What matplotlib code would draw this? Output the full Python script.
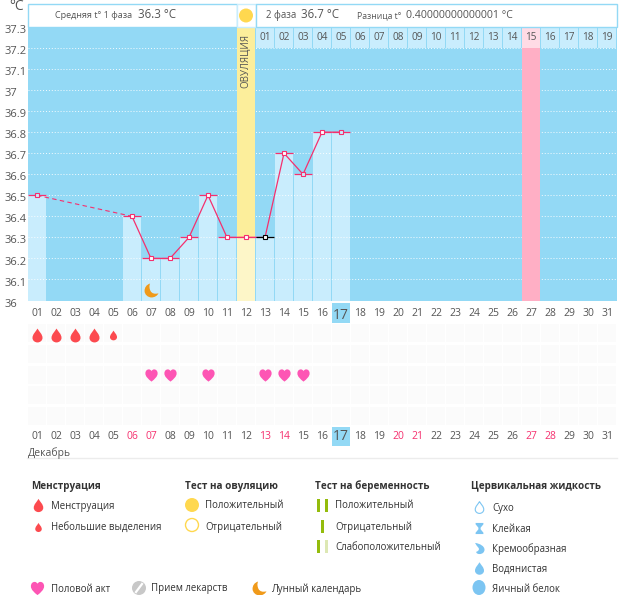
import matplotlib
matplotlib.use('Agg')
import matplotlib.pyplot as plt
from matplotlib.path import Path
from matplotlib.patches import Rectangle, Circle, Ellipse
from matplotlib.transforms import ScaledTranslation

plt.rcParams['font.family'] = ['Open Sans', 'DejaVu Sans']

# Chart data
days = list(range(1, 32))
temp_days = [1, 6, 7, 8, 9, 10, 11, 12, 13, 14, 15, 16, 17]
temps = [36.5, 36.4, 36.2, 36.2, 36.3, 36.5, 36.3, 36.3, 36.3, 36.7, 36.6, 36.8, 36.8]
y_ticks = [36, 36.1, 36.2, 36.3, 36.4, 36.5, 36.6, 36.7, 36.8, 36.9, 37, 37.1, 37.2, 37.3]
y_labels = ['36', '36.1', '36.2', '36.3', '36.4', '36.5', '36.6', '36.7', '36.8', '36.9',
            '37', '37.1', '37.2', '37.3']
cycle_days = list(range(13, 32))
cycle_labels = ['%02d' % i for i in range(1, 20)]
ovulation_day = 12
expected_day = 27
today = 17
moon_days = [7]
red_days = [6, 7, 13, 14, 20, 21, 27, 28]
heavy_days = [1, 2, 3, 4]
light_days = [5]
heart_days = [7, 8, 10, 13, 14, 15]

BG = '#93d9f5'
BAR = '#c9edfd'
RED = '#f5306e'
GREY = '#555555'
W, H = 626, 595
COL = 18 / 19


def drop_path():
    return Path([(0, 1), (0.25, 0.55), (0.72, 0.2), (0.72, -0.35), (0.72, -0.75), (0.35, -1), (0, -1),
                 (-0.35, -1), (-0.72, -0.75), (-0.72, -0.35), (-0.72, 0.2), (-0.25, 0.55), (0, 1)],
                [Path.MOVETO] + [Path.CURVE4] * 12)


def heart_path():
    return Path([(0, -1), (-0.5, -0.6), (-1, -0.2), (-1, 0.35), (-1, 0.8), (-0.7, 1), (-0.45, 1),
                 (-0.2, 1), (-0.05, 0.85), (0, 0.7), (0.05, 0.85), (0.2, 1), (0.45, 1),
                 (0.7, 1), (1, 0.8), (1, 0.35), (1, -0.2), (0.5, -0.6), (0, -1)],
                [Path.MOVETO] + [Path.CURVE4] * 18)


def moon_path():
    return Path([(-0.2, 1), (-0.75, 0.85), (-1, 0.4), (-1, -0.05), (-1, -0.6), (-0.5, -1), (0, -1),
                 (0.45, -1), (0.85, -0.75), (1, -0.4), (0.5, -0.55), (0.05, -0.45), (-0.15, -0.05),
                 (-0.32, 0.3), (-0.35, 0.7), (-0.2, 1)],
                [Path.MOVETO] + [Path.CURVE4] * 15)


def hourglass_path():
    return Path([(-0.7, 1), (0.7, 1), (0.7, 0.75), (0.2, 0.15), (0.2, -0.15), (0.7, -0.75), (0.7, -1),
                 (-0.7, -1), (-0.7, -0.75), (-0.2, -0.15), (-0.2, 0.15), (-0.7, 0.75), (-0.7, 1)])


def cream_path():
    return Path([(-0.8, 1), (0.1, 0.9), (0.9, 0.4), (0.9, -0.2), (0.9, -0.7), (0.5, -1), (0, -1),
                 (-0.4, -1), (-0.6, -0.8), (-0.6, -0.6), (-0.1, -0.45), (0.05, -0.05), (-0.25, 0.2),
                 (-0.45, 0.4), (-0.65, 0.75), (-0.8, 1)],
                [Path.MOVETO] + [Path.CURVE4] * 15)


fig = plt.figure(figsize=(W / 100, H / 100), dpi=100, facecolor='white')

# Temperature panel
ax = fig.add_axes([27.5 / W, 1 - 300.5 / H, 589 / W, 273.5 / H], zorder=2)
ax.set_facecolor(BG)
ax.set_xlim(0.5, 31.5)
ax.set_ylim(36, 37.3)
for s in ax.spines.values():
    s.set_visible(False)

ax.bar(ovulation_day, 37.3 - 36, bottom=36, width=COL, color='#fcee9b', zorder=3.5)
ax.bar(ovulation_day, 36.3 - 36, bottom=36, width=COL, color='#fdf6c8', zorder=3.6)
ax.bar(expected_day, 37.2 - 36, bottom=36, width=COL, color='#ffafc5', zorder=3.5)
ax.bar([d for d in temp_days if d != ovulation_day],
       [t - 36 for d, t in zip(temp_days, temps) if d != ovulation_day],
       bottom=36, width=COL, color=BAR, zorder=2)

# Cycle day cells
ax.bar(cycle_days, [0.1] * len(cycle_days), bottom=37.2, width=COL,
       color=['#ffdbe5' if d == expected_day else BAR for d in cycle_days], zorder=2)
for d, lab in zip(cycle_days, cycle_labels):
    ax.text(d, 37.25, lab, ha='center', va='center', fontsize=7.2, color=GREY, zorder=6)

ax.hlines(y_ticks[1:-1], 0.5, 31.5, color='white', lw=0.7, linestyles=(0, (1, 2)), alpha=0.9, zorder=3)

# Temperature line
ax.plot(temp_days[:2], temps[:2], color=RED, lw=0.8, ls=(0, (4, 3)), zorder=4)
ax.plot(temp_days[1:], temps[1:], color=RED, lw=0.9, zorder=4)
for d, t in zip(temp_days, temps):
    c = 'black' if d == 13 else RED
    ax.hlines(t, d - COL / 2, d + COL / 2, color=c, lw=0.9, zorder=4)
    small = d in (1, 15, 17)
    ax.plot(d, t, 's', ms=2.8 if small else 3.2, mfc=BAR if small else 'white', mec=c, mew=0.8, zorder=5)

ax.plot(moon_days, [36.05] * len(moon_days), marker=moon_path(), ls='none', ms=10, color='#f09a1a', mew=0, zorder=5)

ax.set_yticks(y_ticks)
ax.set_yticklabels(y_labels, fontsize=8, color=GREY, ha='left')
ax.tick_params(axis='y', length=0, pad=16.5)
for lab in ax.get_yticklabels():
    lab.set_transform(lab.get_transform() + ScaledTranslation(0, -1.5 / 72, fig.dpi_scale_trans))
ax.set_xticks(days)
ax.set_xticklabels(['%02d' % d for d in days], fontsize=7.5, color=GREY)
ax.tick_params(axis='x', length=0, pad=5.5)
ax.get_xticklabels()[today - 1].set_fontsize(10)

# Symptom rows
ax2 = fig.add_axes([27.5 / W, 1 - 446.5 / H, 589 / W, 143.5 / H], zorder=1)
ax2.set_xlim(0.5, 31.5)
ax2.set_ylim(446.5, 303)
ax2.axis('off')
rows = [333, 354, 375, 395, 416]
for r in rows:
    ax2.bar(days, [18] * len(days), bottom=r - 9, width=COL, color='#fbfbfb', zorder=1)
ax2.bar(today, 20, bottom=303, width=COL, color=BG, zorder=2)
ax2.bar(today, 19, bottom=427, width=COL, color=BG, zorder=2)
ax2.plot(heavy_days, [335] * len(heavy_days), marker=drop_path(), ls='none', ms=10, color='#fc4a4f', mew=0, zorder=3)
ax2.plot(light_days, [335] * len(light_days), marker=drop_path(), ls='none', ms=7, color='#fc4a4f', mew=0, zorder=3)
ax2.plot(heart_days, [375] * len(heart_days), marker=heart_path(), ls='none', ms=8.8, color='#fd55b4', mew=0, zorder=3)
for d in days:
    big = d == today
    ax2.text(d, 436.5, '%02d' % d, ha='center', va='center', zorder=4,
             fontsize=10 if big else 7.5, color=RED if d in red_days else GREY)

# Everything else sits in pixel coordinates
ov = fig.add_axes([0, 0, 1, 1], zorder=5)
ov.set_xlim(0, W)
ov.set_ylim(H, 0)
ov.axis('off')
ov.patch.set_alpha(0)

ov.add_patch(Rectangle((27.5, 3.5), 209, 23.5, fc='white', ec=BG, lw=1))
ov.add_patch(Rectangle((236.5, 3.5), 19, 23.5, fc='white', ec='#c9edfd', lw=1))
ov.add_patch(Rectangle((255.5, 3.5), 361, 23.5, fc='white', ec=BG, lw=1))
ov.add_patch(Circle((246, 15.5), 7, fc='#ffd84f', ec='none'))


def txt(x, y, s, size=7.5, color=GREY, **kw):
    ov.text(x, y, s, fontsize=size, color=color, va='center', ha=kw.pop('ha', 'left'), **kw)


txt(9, 7, '°C', 10)
txt(55, 15.5, 'Средняя t° 1 фаза', 6.5)
txt(138, 15, '36.3 °C', 8.3)
txt(266, 15.5, '2 фаза', 6.9)
txt(301, 15, '36.7 °C', 8.3)
txt(357, 15.5, 'Разница t°', 6.2)
txt(406, 15, '0.40000000000001 °C', 7.6)
ov.text(245.5, 61, 'ОВУЛЯЦИЯ', rotation=90, fontsize=7, color=GREY, ha='center', va='center')
txt(28, 453, 'Декабрь', 7.5)
ov.plot([27, 617], [458, 458], color='#ececec', lw=1)

# Legend
DARK = '#333333'
for x, s in [(31, 'Менструация'), (185, 'Тест на овуляцию'), (315, 'Тест на беременность'),
             (471, 'Цервикальная жидкость')]:
    txt(x, 486, s, 7.1, DARK, fontweight='bold')
for x, y, s in [(51, 506, 'Менструация'), (51, 527, 'Небольшие выделения'),
                (205, 506, 'Положительный'), (205, 527, 'Отрицательный'),
                (335, 506, 'Положительный'), (335, 527, 'Отрицательный'), (335, 547, 'Слабоположительный'),
                (492, 508, 'Сухо'), (492, 529, 'Клейкая'), (492, 549, 'Кремообразная'),
                (492, 569, 'Водянистая'), (492, 589, 'Яичный белок'),
                (51, 589, 'Половой акт'), (151, 589, 'Прием лекарств'), (271, 589, 'Лунный календарь')]:
    txt(x, y, s, 6.95, DARK)

ov.plot(38, 505, marker=drop_path(), ms=9.5, color='#fc4a4f', mew=0)
ov.plot(38, 527, marker=drop_path(), ms=6.5, color='#fc4a4f', mew=0)
ov.add_patch(Circle((192, 505), 7, fc='#ffd84f', ec='none'))
ov.add_patch(Circle((192, 525), 6.5, fc='white', ec='#ffd84f', lw=1))
for x, y, c in [(318, 505, '#94bc0c'), (326, 505, '#94bc0c'), (322, 526, '#94bc0c'),
                (318, 546, '#94bc0c'), (326, 546, '#dde8b4')]:
    ov.add_patch(Rectangle((x - 1.5, y - 6.5), 3, 13, fc=c, ec='none'))

BLUE = '#7cc5f2'
ov.plot(479, 507, marker=drop_path(), ms=8.5, mfc='white', mec=BLUE, mew=0.8)
ov.plot(479, 528, marker=hourglass_path(), ms=8, color=BLUE, mew=0)
ov.plot(479, 548, marker=cream_path(), ms=8, color=BLUE, mew=0)
ov.plot(479, 568, marker=drop_path(), ms=9, color=BLUE, mew=0)
ov.add_patch(Ellipse((479, 587.5), 13, 15, fc=BLUE, ec='none'))

ov.plot(37, 588, marker=heart_path(), ms=9.5, color='#fd55b4', mew=0)
ov.add_patch(Circle((139, 588), 7, fc='#c8c8c8', ec='none'))
ov.plot([136, 142], [592, 584], color='white', lw=1.6)
ov.plot(259, 588, marker=moon_path(), ms=10, color='#f09a1a', mew=0)

fig.savefig('out.png', dpi=100)
